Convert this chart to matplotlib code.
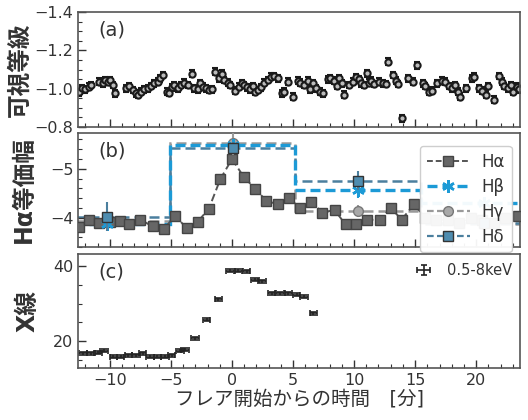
import numpy as np
import matplotlib
matplotlib.use("Agg")
import matplotlib.pyplot as plt
from matplotlib.lines import Line2D
from matplotlib.ticker import MultipleLocator

plt.rcParams['font.family'] = ['DejaVu Sans', 'Noto Sans CJK JP']
plt.rcParams['axes.unicode_minus'] = True

# ---------------- data ----------------
# (a) visual magnitude
mag_t = [-12.51, -12.30, -12.02, -11.75, -11.56, -10.88, -10.6, -10.38, -10.16, -9.97,
         -9.78, -9.59, -8.69, -8.42, -8.09, -7.87, -7.68, -7.46, -7.19, -6.91,
         -6.64, -6.37, -6.09, -5.9, -5.63, -5.36, -5.14, -4.92, -4.73, -4.45,
         -4.18, -3.91, -3.63, -3.3, -3.09, -2.81, -2.62, -2.4, -2.13, -1.91,
         -1.64, -1.36, -1.04, -0.82, -0.63, -0.35, -0.16, 0.27, 0.55, 0.82,
         1.01, 1.2, 1.48, 1.69, 1.91, 2.1, 2.38, 2.65, 2.92, 3.2,
         3.47, 3.74, 4.1, 4.29, 4.56, 4.97, 5.38, 5.57, 5.93, 6.2,
         6.39, 6.61, 6.88, 7.21, 7.43, 7.84, 8.03, 8.39, 8.58, 8.8,
         9.02, 9.21, 9.62, 9.9, 10.17, 10.39, 10.57, 10.85, 11.04, 11.2,
         11.4, 11.67, 12.02, 12.35, 12.62, 12.76, 13.17, 13.44, 13.58, 13.93,
         14.39, 14.84, 15.14, 15.63, 15.85, 16.12, 16.39, 16.78, 17.21, 17.49,
         17.76, 18.03, 18.31, 18.5, 18.69, 19.13, 19.67, 19.86, 20.22, 20.49,
         20.77, 20.96, 21.5, 21.91, 22.13, 22.32, 22.6, 22.87, 23.06, 23.33,
         23.55]
mag_v = [-0.980, -1.002, -0.997, -1.011, -1.019, -1.037, -1.028, -1.045, -1.037, -1.045,
         -1.019, -0.976, -1.002, -1.014, -0.993, -0.976, -0.967, -0.984, -0.997, -1.002,
         -1.014, -1.028, -1.037, -1.054, -1.071, -0.984, -0.979, -1.007, -1.019, -1.002,
         -1.019, -1.031, -1.019, -1.078, -1.002, -0.997, -1.028, -1.010, -1.002, -0.993,
         -0.997, -1.089, -1.054, -1.077, -1.045, -1.031, -1.019, -0.990, -1.010, -1.028,
         -1.019, -1.007, -0.997, -1.014, -0.984, -0.993, -1.007, -1.031, -1.045, -1.063,
         -1.066, -1.054, -0.976, -0.984, -1.037, -0.958, -1.042, -1.031, -1.019, -1.042,
         -0.997, -1.028, -1.002, -0.984, -0.976, -1.049, -1.054, -1.042, -1.014, -1.054,
         -1.028, -0.967, -1.019, -1.037, -1.059, -1.049, -1.028, -1.019, -1.080, -1.031,
         -1.042, -1.024, -1.037, -1.028, -1.024, -1.141, -1.071, -1.042, -1.024, -0.845,
         -1.054, -1.037, -1.123, -1.028, -1.014, -0.984, -0.990, -1.028, -1.042, -1.037,
         -1.014, -1.002, -1.019, -0.984, -0.958, -1.002, -1.054, -1.063, -1.002, -0.990,
         -0.967, -1.014, -0.941, -1.066, -1.037, -1.014, -1.002, -1.019, -0.984, -1.010,
         -0.997]
mag_err = 0.018

# (b) H-alpha equivalent width
ha_t = [-12.5, -11.7, -10.9, -10.0, -9.2, -8.4, -7.5, -6.5, -5.6, -4.65,
        -3.7, -2.8, -1.9, -0.95, 0.0, 0.95, 1.9, 2.8, 3.75, 4.65,
        5.55, 6.5, 7.4, 8.4, 9.3, 10.2, 11.1, 12.1, 13.0, 13.9,
        14.9, 15.85, 16.7, 17.7, 18.6, 19.6, 20.5, 21.5, 22.4, 23.4]
ha_v = [-3.80, -3.95, -3.90, -3.92, -3.93, -3.88, -3.96, -3.82, -3.76, -4.04,
        -3.78, -3.92, -4.18, -4.79, -5.20, -4.84, -4.59, -4.35, -4.27, -4.41,
        -4.20, -4.33, -4.10, -4.16, -3.86, -3.88, -3.96, -3.95, -4.20, -3.96,
        -4.27, -4.00, -3.96, -3.95, -3.90, -4.00, -3.95, -3.90, -4.00, -4.03]

bin_edges = [-15.4, -5.1, 5.2, 15.5, 25.8]
bin_centers = [-10.25, 0.05, 10.3, 20.65]
hb_v = [-3.88, -5.49, -4.56, -4.30]
hb_err = [0.08, 0.10, 0.15, 0.10]
hg_v = [-3.94, -5.53, -4.13, -3.86]
hg_err = [0.15, 0.25, 0.12, 0.10]
hd_v = [-4.02, -5.43, -4.76, -3.90]
hd_err = [0.30, 0.12, 0.20, 0.10]

# (c) X-ray
xr_t = [-12.19, -11.58, -10.96, -10.49, -9.73, -9.13, -8.50, -7.87, -7.32, -6.72,
        -6.12, -5.49, -4.94, -4.26, -3.85, -3.03, -2.08, -1.12, -0.16, 0.52,
        1.20, 1.89, 2.45, 3.25, 3.93, 4.62, 5.30, 5.90, 6.66]
xr_v = [16.7, 16.7, 16.9, 17.4, 15.8, 15.8, 16.2, 16.2, 16.7, 15.8,
        15.8, 15.8, 16.2, 17.4, 17.6, 20.7, 25.6, 31.1, 38.8, 38.8,
        38.6, 36.3, 35.9, 32.7, 32.7, 32.7, 32.4, 31.8, 27.4]
xr_xerr = 0.3
xr_yerr = 0.4
ref_t, ref_v, ref_xerr, ref_yerr = 15.7, 38.9, 0.55, 1.3

xlim = (-12.6, 23.6)

# ---------------- figure ----------------
fig = plt.figure(figsize=(5.28, 4.2), dpi=100)
L, W = 0.148, 0.837
axa = fig.add_axes([L, 0.698, W, 0.273])
axb = fig.add_axes([L, 0.412, W, 0.271])
axc = fig.add_axes([L, 0.124, W, 0.271])

for ax in (axa, axb, axc):
    ax.set_xlim(*xlim)
    ax.xaxis.set_major_locator(MultipleLocator(5))
    ax.xaxis.set_minor_locator(MultipleLocator(1))
    ax.tick_params(which='both', direction='in', top=False, right=False,
                   labelsize=11.5, colors='#333333')
    ax.tick_params(which='major', length=6, width=1)
    ax.tick_params(which='minor', length=3, width=0.8)
    for s in ax.spines.values():
        s.set_color('#555555')
        s.set_linewidth(1.2)
for ax in (axa, axb):
    ax.tick_params(labelbottom=False)

# (a)
axa.errorbar(mag_t, mag_v, yerr=mag_err, fmt='o', ms=4.5, mfc='#bbbbbb', mec='#1a1a1a',
             mew=1.5, ecolor='#1a1a1a', elinewidth=1.2, capsize=2, capthick=1.2)
axa.set_ylim(-0.8, -1.4)
axa.yaxis.set_major_locator(MultipleLocator(0.2))
axa.yaxis.set_minor_locator(MultipleLocator(0.05))
axa.yaxis.set_major_formatter(matplotlib.ticker.FuncFormatter(lambda v, p: f"{v:.1f}".replace('-', '\u2212')))
axa.set_ylabel('可視等級', fontsize=17, fontweight='bold', labelpad=2)
axa.text(0.045, 0.93, '(a)', transform=axa.transAxes, fontsize=14, va='top', color='#333333')

# (b)
c_ha, c_hb, c_hg, c_hd = '#555555', '#1c9ad6', '#9a9a9a', '#4b7f9e'
axb.stairs(hg_v, bin_edges, baseline=None, color=c_hg, ls=(0, (4, 2)), lw=1.8)
axb.stairs(hd_v, bin_edges, baseline=None, color=c_hd, ls=(0, (4, 2)), lw=1.8)
axb.stairs(hb_v, bin_edges, baseline=None, color=c_hb, ls=(0, (3, 1.5)), lw=2.4)
axb.plot(ha_t, ha_v, ls='--', color=c_ha, lw=1.4, dashes=(4, 2), marker='s', ms=7,
         mfc='#666666', mec='#444444', mew=1, zorder=4)
axb.errorbar(bin_centers, hg_v, yerr=hg_err, fmt='o', ms=7, mfc='#a8a8a8', mec='#777777',
             ecolor=c_hg, elinewidth=1.5, capsize=0, zorder=5)
axb.errorbar(bin_centers, hb_v, yerr=hb_err, fmt='none', ecolor=c_hb, elinewidth=1.5,
             capsize=0, zorder=5)
axb.plot(bin_centers, hb_v, ls='none', marker=(6, 2, 0), ms=9, mec=c_hb, mew=1.8, zorder=6)
axb.errorbar(bin_centers, hd_v, yerr=hd_err, fmt='s', ms=7, mfc='#4f8db0', mec='#333333',
             ecolor=c_hd, elinewidth=1.5, capsize=0, zorder=6)
axb.set_ylim(-3.4, -5.73)
axb.yaxis.set_major_locator(MultipleLocator(1))
axb.yaxis.set_minor_locator(MultipleLocator(0.2))
axb.yaxis.set_major_formatter(matplotlib.ticker.FuncFormatter(lambda v, p: f"{v:.0f}".replace('-', '\u2212')))
axb.set_ylabel('Hα等価幅', fontsize=17, fontweight='bold', labelpad=10)
axb.text(0.045, 0.93, '(b)', transform=axb.transAxes, fontsize=14, va='top', color='#333333')

handles = [
    Line2D([], [], ls='--', color=c_ha, lw=1.4, dashes=(3, 1.5), marker='s', ms=7,
           mfc='#666666', mec='#444444'),
    Line2D([], [], ls='--', color=c_hb, lw=2.4, dashes=(3, 1.5), marker=(6, 2, 0), ms=9,
           mec=c_hb, mew=1.8),
    Line2D([], [], ls='--', color=c_hg, lw=1.6, dashes=(3, 1.5), marker='o', ms=7,
           mfc='#a8a8a8', mec='#777777'),
    Line2D([], [], ls='--', color=c_hd, lw=1.6, dashes=(3, 1.5), marker='s', ms=7,
           mfc='#4f8db0', mec='#333333'),
]
leg = axb.legend(handles, ['Hα', 'Hβ', 'Hγ', 'Hδ'], loc='upper right', fontsize=12,
                 handlelength=2.6, borderpad=0.4, labelspacing=0.42, handletextpad=0.7,
                 framealpha=0.95, edgecolor='#cccccc', fancybox=True,
                 bbox_to_anchor=(1.0, 0.96))
leg.set_zorder(20)
for t in leg.get_texts():
    t.set_color('#333333')

# (c)
axc.errorbar(xr_t, xr_v, xerr=xr_xerr, yerr=xr_yerr, fmt='none', ecolor='#222222',
             elinewidth=1.2, capsize=2.5, capthick=1.2)
axc.errorbar([ref_t], [ref_v], xerr=ref_xerr, yerr=ref_yerr, fmt='none', ecolor='#222222',
             elinewidth=1.2, capsize=2.5, capthick=1.2)
axc.text(17.6, ref_v, '0.5-8keV', fontsize=10.5, va='center', color='#333333')
axc.set_ylim(12.8, 43.2)
axc.yaxis.set_major_locator(MultipleLocator(20))
axc.yaxis.set_minor_locator(MultipleLocator(5))
axc.set_ylabel('X線', fontsize=17, fontweight='bold', labelpad=10)
axc.text(0.045, 0.93, '(c)', transform=axc.transAxes, fontsize=14, va='top', color='#333333')
axc.set_xlabel('フレア開始からの時間\u3000[分]', fontsize=14, labelpad=1, color='#333333')

for ax in (axa, axb, axc):
    ax.yaxis.label.set_color('#333333')

fig.savefig('out.png', dpi=100)
